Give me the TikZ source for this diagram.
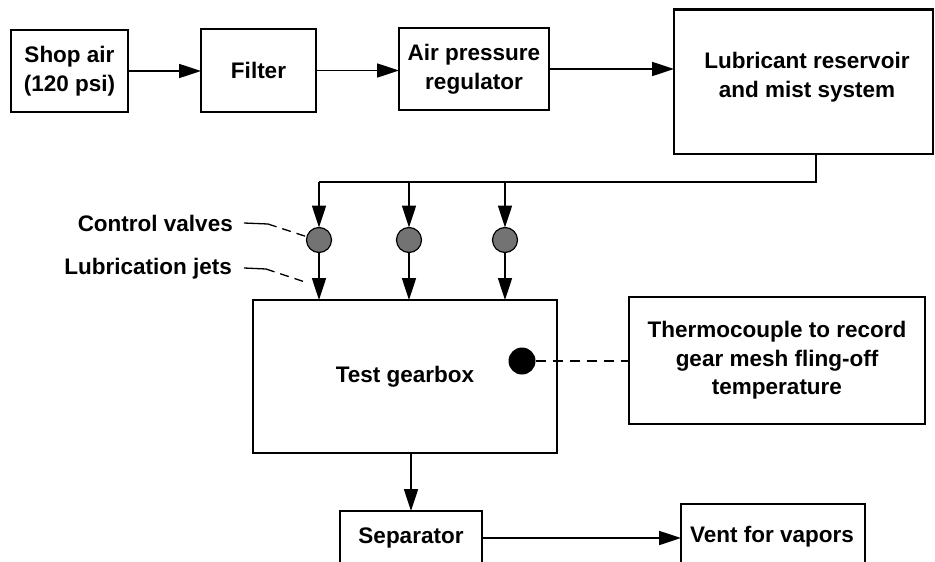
\documentclass[tikz,border=0pt]{standalone}
\usepackage{fontspec}
\setmainfont{Liberation Sans}
\usetikzlibrary{arrows.meta}
\begin{document}
\begin{tikzpicture}[x=1pt,y=-1pt,
  box/.style={draw, line width=2.6pt, inner sep=0pt, outer sep=0pt, align=center, font=\fontsize{22.5}{28.5}\selectfont\bfseries},
  lbl/.style={inner sep=0pt, align=center, font=\fontsize{22.5}{28.5}\selectfont\bfseries},
  conn/.style={line width=1.7pt, -{Triangle[length=22pt,width=14pt]}},
  plain/.style={line width=1.7pt},
  valve/.style={circle, draw, line width=1.2pt, fill=black!55, minimum size=25pt, inner sep=0pt, outer sep=0pt},
  leader/.style={line width=1.3pt, dash pattern=on 9pt off 6pt},
  tcdash/.style={line width=1.7pt, dash pattern=on 10pt off 7pt}]
\useasboundingbox (0,0) rectangle (935,562);
% top row
\node[box, minimum width=117pt, minimum height=82pt] (shop) at (69.5,71) {Shop air\\(120 psi)};
\node[box, minimum width=115pt, minimum height=83pt] (filter) at (258.5,70.5) {Filter};
\node[box, minimum width=150pt, minimum height=82pt] (reg) at (474,69) {Air pressure\\regulator};
\node[box, minimum width=259pt, minimum height=144.5pt] (lub) at (803.5,81.75) {};
\node[lbl] (lubtxt) at (807,77) {Lubricant reservoir\\and mist system};
\draw[conn] (shop.east) -- (shop.east -| filter.west);
\draw[conn] (filter.east) -- (filter.east -| reg.west);
\draw[conn] (reg.east) -- (reg.east -| lub.west);
% distribution
\coordinate (j0) at (816,182);
\node[valve] (v1) at (319,240) {};
\node[valve] (v2) at (409,240) {};
\node[valve] (v3) at (505,240) {};
\coordinate (j1) at (319,182);
\coordinate (j2) at (409,182);
\coordinate (j3) at (505,182);
\draw[plain] (lub.south -| j0) -- (j0) -- (j1);
\draw[conn] (j1) -- (v1.north);
\draw[conn] (j2) -- (v2.north);
\draw[conn] (j3) -- (v3.north);
% gearbox
\node[box, minimum width=304pt, minimum height=153pt] (gb) at (405,376.5) {Test gearbox};
\draw[conn] (v1.south) -- (v1 |- gb.north);
\draw[conn] (v2.south) -- (v2 |- gb.north);
\draw[conn] (v3.south) -- (v3 |- gb.north);
% labels
\node[lbl, anchor=east] (cv) at (233,223) {Control valves};
\node[lbl, anchor=east] (lj) at (232,269) {Lubrication jets};
\coordinate (cva) at (244,223);
\coordinate (cvb) at (268,224);
\draw[line width=1.3pt] (cva) -- (cvb);
\draw[leader] (cvb) -- (v1.165);
\coordinate (lja) at (244,268);
\coordinate (ljb) at (266,269);
\coordinate (ljc) at (305,282);
\draw[line width=1.3pt] (lja) -- (ljb);
\draw[leader] (ljb) -- (ljc);
% thermocouple
\node[circle, fill=black, minimum size=27pt, inner sep=0pt, outer sep=0pt] (dot) at (522,361) {};
\node[box, line width=1.8pt, minimum width=296pt, minimum height=127pt] (tc) at (777,360.5) {Thermocouple to record\\gear mesh fling-off\\temperature};
\draw[tcdash] (dot.east) -- (dot.east -| tc.west);
% bottom
\node[box, anchor=north west, minimum width=142pt, minimum height=90pt] (sep) at (340,511) {};
\node[lbl] (septxt) at (411,538) {Separator};
\node[box, anchor=north west, minimum width=184pt, minimum height=90pt] (vent) at (681,504) {};
\node[lbl] (venttxt) at (772,537) {Vent for vapors};
\draw[conn] (gb.south -| septxt) -- (sep.north -| septxt);
\draw[conn] (septxt -| sep.east) -- (septxt -| vent.west);
\end{tikzpicture}
\end{document}
